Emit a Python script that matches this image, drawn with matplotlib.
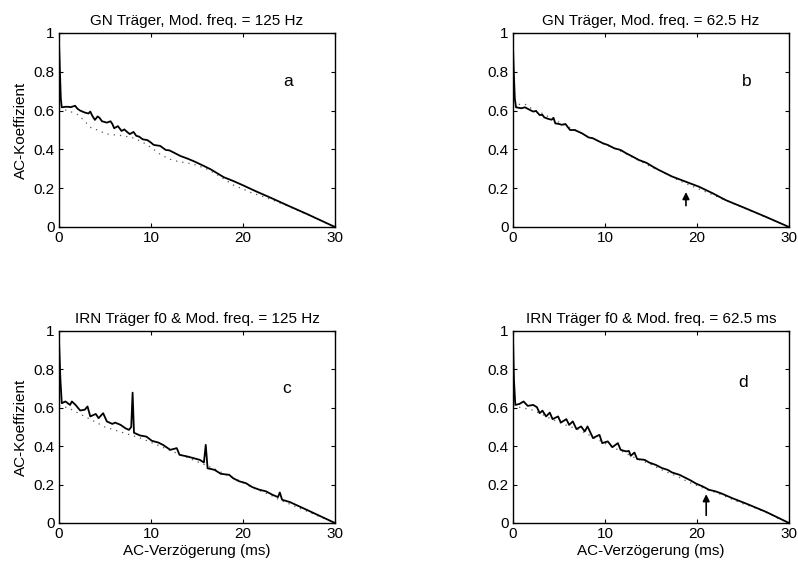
import matplotlib
matplotlib.use("Agg")
import matplotlib.pyplot as plt

plt.rcParams['font.family'] = ['Liberation Sans', 'DejaVu Sans']

# ---------------- data ----------------
titles = ["GN Träger, Mod. freq. = 125 Hz",
          "GN Träger, Mod. freq. = 62.5 Hz",
          "IRN Träger f0 & Mod. freq. = 125 Hz",
          "IRN Träger f0 & Mod. freq. = 62.5 ms"]
panel_letters = ["a", "b", "c", "d"]
x_ticks = [0, 10, 20, 30]
x_tick_labels = ["0", "10", "20", "30"]
y_ticks = [0, 0.2, 0.4, 0.6, 0.8, 1.0]
y_tick_labels = ["0", "0.2", "0.4", "0.6", "0.8", "1"]
y_label = "AC-Koeffizient"
x_label = "AC-Verzögerung (ms)"

# panel a
a_solid_x = [0, 0.1, 0.2, 0.3, 0.8, 1.3, 1.75, 2.0, 2.3, 2.8, 3.2, 3.4, 3.6, 3.9, 4.2, 4.4,
             4.67, 5.2, 5.6, 5.8, 6.0, 6.4, 6.8, 7.1, 7.4, 7.7, 8.1, 8.4, 8.7, 9.1, 9.6,
             10.0, 10.3, 11.0, 11.6, 12.0, 12.5, 13.2, 14.0, 14.7, 15.6, 16.5, 17.9, 19.0,
             20.0, 21.5, 23.0, 25.0, 27.0, 29.0, 30.0]
a_solid_y = [0.955, 0.80, 0.66, 0.617, 0.62, 0.618, 0.625, 0.61, 0.60, 0.59, 0.585, 0.595,
             0.575, 0.552, 0.57, 0.563, 0.545, 0.538, 0.545, 0.531, 0.509, 0.52, 0.495, 0.503,
             0.49, 0.479, 0.49, 0.47, 0.466, 0.452, 0.448, 0.435, 0.423, 0.418, 0.397, 0.395,
             0.383, 0.366, 0.352, 0.338, 0.318, 0.297, 0.257, 0.236, 0.215, 0.182, 0.151,
             0.108, 0.066, 0.022, 0.0]
a_dot_x = [0, 1, 2, 2.6, 3.5, 4.2, 5.1, 6, 7, 8, 9, 10, 11, 12, 13, 14, 15, 16, 17, 18,
           19, 20, 21, 22, 23, 24, 25, 26, 27, 28, 29, 30]
a_dot_y = [0.61, 0.60, 0.58, 0.555, 0.51, 0.50, 0.48, 0.475, 0.47, 0.46, 0.44, 0.41, 0.375,
           0.35, 0.337, 0.33, 0.318, 0.30, 0.275, 0.245, 0.215, 0.195, 0.175, 0.16, 0.143,
           0.124, 0.105, 0.085, 0.064, 0.043, 0.021, 0.0]

# panel b
b_solid_x = [0, 0.1, 0.2, 0.33, 0.9, 1.3, 1.85, 2.2, 2.5, 2.9, 3.2, 3.4, 3.85, 4.2, 4.4,
             4.6, 5.0, 5.3, 5.7, 6.2, 6.7, 7.5, 8.2, 8.7, 9.2, 9.8, 10.3, 11.0, 11.7, 12.3,
             13.0, 13.7, 14.5, 15.2, 15.85, 17.3, 18.75, 20.2, 21.7, 23.1, 25.3, 27.5, 30.0]
b_solid_y = [0.93, 0.78, 0.66, 0.617, 0.612, 0.617, 0.603, 0.595, 0.598, 0.577, 0.578,
             0.565, 0.557, 0.553, 0.563, 0.534, 0.531, 0.527, 0.531, 0.50, 0.50, 0.483,
             0.462, 0.457, 0.445, 0.431, 0.423, 0.406, 0.397, 0.38, 0.363, 0.345, 0.331,
             0.311, 0.294, 0.26, 0.234, 0.208, 0.174, 0.139, 0.096, 0.052, 0.0]
b_dot_x = [0, 0.5, 1, 1.5, 2, 3, 4, 5, 6, 7, 8, 9, 10, 11, 12, 13, 14, 15, 16, 17, 18, 19,
           20, 21, 22, 23, 24, 25, 26, 27, 28, 29, 30]
b_dot_y = [0.62, 0.63, 0.635, 0.63, 0.61, 0.59, 0.565, 0.54, 0.515, 0.495, 0.47, 0.45,
           0.425, 0.405, 0.385, 0.36, 0.335, 0.31, 0.29, 0.265, 0.24, 0.22, 0.20, 0.18,
           0.16, 0.14, 0.12, 0.10, 0.08, 0.06, 0.04, 0.02, 0.0]
b_arrow = (18.8, 0.11, 0.18)   # x, tail y, head y

# panel c
c_solid_x = [0, 0.15, 0.3, 0.7, 1.2, 1.4, 1.8, 2.3, 2.8, 3.1, 3.4, 4.0, 4.3, 4.8, 5.2, 5.8,
             6.1, 6.7, 7.2, 7.6, 7.85, 8.0, 8.15, 8.8, 9.5, 10.1, 10.8, 11.3, 12.1, 12.8,
             13.1, 13.9, 14.6, 15.3, 15.75, 15.95, 16.15, 16.9, 17.6, 18.5, 18.9, 19.6,
             20.3, 21.0, 21.8, 22.5, 23.2, 23.8, 24.0, 24.25, 25.1, 27.0, 30.0]
c_solid_y = [0.953, 0.75, 0.624, 0.633, 0.615, 0.633, 0.615, 0.586, 0.59, 0.607, 0.555,
             0.568, 0.546, 0.572, 0.529, 0.516, 0.523, 0.511, 0.494, 0.485, 0.50, 0.679,
             0.47, 0.456, 0.45, 0.428, 0.419, 0.407, 0.381, 0.39, 0.355, 0.347, 0.338,
             0.329, 0.315, 0.407, 0.285, 0.277, 0.256, 0.251, 0.234, 0.217, 0.208, 0.187,
             0.173, 0.165, 0.147, 0.135, 0.159, 0.121, 0.109, 0.067, 0.0]
c_dot_x = [0, 1, 2, 3, 4, 5, 6, 7, 8, 9, 10, 11, 12, 13, 14, 15, 16, 17, 18, 19, 20, 21,
           22, 23, 24, 25, 26, 27, 28, 29, 30]
c_dot_y = [0.61, 0.60, 0.575, 0.55, 0.525, 0.50, 0.485, 0.47, 0.455, 0.44, 0.42, 0.40,
           0.38, 0.36, 0.34, 0.32, 0.30, 0.28, 0.255, 0.235, 0.21, 0.185, 0.165, 0.145,
           0.12, 0.10, 0.08, 0.06, 0.04, 0.02, 0.0]

# panel d
d_solid_x = [0, 0.1, 0.25, 0.7, 1.15, 1.6, 2.2, 2.6, 2.9, 3.2, 3.6, 4.0, 4.3, 4.9, 5.2,
             5.8, 6.1, 6.5, 6.9, 7.4, 7.8, 8.1, 8.7, 9.0, 9.4, 9.7, 10.3, 10.8, 11.4, 11.7,
             12.3, 12.6, 12.8, 13.2, 13.5, 14.3, 14.8, 15.5, 16.2, 16.8, 17.3, 18.1, 18.8,
             19.3, 19.9, 20.6, 21.3, 22.0, 22.7, 23.8, 25.5, 27.5, 30.0]
d_solid_y = [0.97, 0.75, 0.615, 0.62, 0.633, 0.61, 0.615, 0.603, 0.572, 0.585, 0.555,
             0.575, 0.541, 0.555, 0.523, 0.541, 0.511, 0.529, 0.489, 0.503, 0.477, 0.503,
             0.442, 0.45, 0.459, 0.416, 0.425, 0.395, 0.416, 0.381, 0.373, 0.375, 0.35,
             0.367, 0.333, 0.329, 0.315, 0.303, 0.286, 0.277, 0.263, 0.251, 0.234, 0.222,
             0.205, 0.191, 0.173, 0.165, 0.153, 0.13, 0.098, 0.058, 0.0]
d_dot_x = [0, 1, 2, 3, 4, 5, 6, 7, 8, 9, 10, 11, 12, 13, 14, 15, 16, 17, 18, 19, 20, 21,
           22, 23, 24, 25, 26, 27, 28, 29, 30]
d_dot_y = [0.61, 0.60, 0.59, 0.57, 0.545, 0.525, 0.505, 0.49, 0.465, 0.44, 0.415, 0.39,
           0.37, 0.345, 0.325, 0.305, 0.28, 0.26, 0.24, 0.215, 0.195, 0.175, 0.16, 0.14,
           0.12, 0.10, 0.085, 0.065, 0.045, 0.02, 0.0]
d_arrow = (21.0, 0.04, 0.15)

panels = [
    (a_solid_x, a_solid_y, a_dot_x, a_dot_y, None, (24.9, 0.75)),
    (b_solid_x, b_solid_y, b_dot_x, b_dot_y, b_arrow, (25.4, 0.75)),
    (c_solid_x, c_solid_y, c_dot_x, c_dot_y, None, (24.7, 0.70)),
    (d_solid_x, d_solid_y, d_dot_x, d_dot_y, d_arrow, (25.0, 0.73)),
]

# ---------------- figure ----------------
fig = plt.figure(figsize=(7.98, 5.69), dpi=100)
W, H = 798, 569
rects = [(59, 33, 335, 227), (513, 33, 789, 227), (59, 331, 335, 523), (513, 331, 789, 523)]

for i, (rect, (sx, sy, dx, dy, arrow, letter_pos)) in enumerate(zip(rects, panels)):
    l, t, r, b = rect
    ax = fig.add_axes([l / W, 1 - b / H, (r - l) / W, (b - t) / H])
    ax.plot(dx, dy, color='#555555', lw=0.9, linestyle=(0, (1, 4)))
    ax.plot(sx, sy, color='black', lw=1.3)
    ax.set_xlim(0, 30)
    ax.set_ylim(0, 1)
    ax.set_xticks(x_ticks)
    ax.set_xticklabels(x_tick_labels)
    ax.set_yticks(y_ticks)
    ax.set_yticklabels(y_tick_labels)
    ax.tick_params(direction='in', length=3, width=0.8, top=True, right=True,
                   labelsize=11, pad=3, colors='black')
    for sp in ax.spines.values():
        sp.set_linewidth(1.0)
    ax.set_title(titles[i], fontsize=11, pad=6)
    ax.text(letter_pos[0], letter_pos[1], panel_letters[i], fontsize=12.5,
            ha='center', va='center')
    if arrow is not None:
        ax.annotate('', xy=(arrow[0], arrow[2]), xytext=(arrow[0], arrow[1]),
                    arrowprops=dict(arrowstyle='-|>', color='black', lw=1.2,
                                    mutation_scale=10, shrinkA=0, shrinkB=0))
    if i in (0, 2):
        ax.set_ylabel(y_label, fontsize=11, labelpad=4)
    if i in (2, 3):
        ax.set_xlabel(x_label, fontsize=11, labelpad=2)

fig.savefig("out.png", dpi=100)
